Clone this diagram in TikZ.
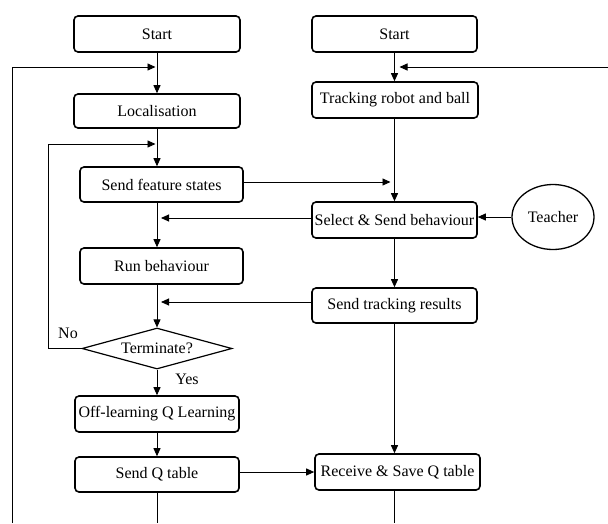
\documentclass[tikz,border=0pt]{standalone}
\usepackage{fontspec}
\setmainfont{Liberation Serif}
\usetikzlibrary{arrows.meta,shapes.geometric}
\begin{document}
\begin{tikzpicture}[x=1pt,y=-1pt,
  txt/.style={font=\fontsize{16}{19}\selectfont},
  box/.style={txt, draw, line width=1.6pt, rounded corners=4pt, inner sep=0pt},
  dia/.style={txt, draw, diamond, aspect=3.66, line width=1.2pt, inner sep=0pt, minimum width=150pt, minimum height=41pt},
  ell/.style={txt, draw, ellipse, line width=1.3pt, inner sep=0pt, minimum width=82pt, minimum height=65pt},
  ln/.style={line width=0.9pt},
  arr/.style={line width=0.9pt, -{Triangle[length=8pt,width=7pt]}},
  lbl/.style={txt, inner sep=0pt}]
\useasboundingbox (0,0) rectangle (608,523);
% left column
\node[box,minimum width=166pt,minimum height=36pt] (s1) at (157,34) {Start};
\node[box,minimum width=166pt,minimum height=34pt] (loc) at (157,111) {Localisation};
\node[box,minimum width=163pt,minimum height=35pt] (sfs) at (161.5,184.5) {Send feature states};
\node[box,minimum width=163pt,minimum height=36pt] (run) at (161.5,266) {Run behaviour};
\node[dia] (term) at (157,348.5) {Terminate?};
\node[box,minimum width=164pt,minimum height=36pt] (off) at (157,414) {Off-learning Q Learning};
\node[box,minimum width=164pt,minimum height=35pt] (sqt) at (157,474.5) {Send Q table};
% right column
\node[box,minimum width=165pt,minimum height=36pt] (s2) at (394.5,34) {Start};
\node[box,minimum width=166pt,minimum height=36pt] (trk) at (395,100) {Tracking robot and ball};
\node[box,minimum width=165pt,minimum height=36pt] (sel) at (394.5,220) {Select \& Send behaviour};
\node[ell] (tea) at (553,217) {Teacher};
\node[box,minimum width=165pt,minimum height=35pt] (str) at (394.5,305.5) {Send tracking results};
\node[box,minimum width=165pt,minimum height=36pt] (rcv) at (397.5,472) {Receive \& Save Q table};
% labels
\node[lbl] (no) at (68,333) {No};
\node[lbl] (yes) at (187,379) {Yes};
% coordinates
\coordinate (bl) at (157,523);
\coordinate (j1) at (157,67);
\coordinate (o1) at (12,523);
\coordinate (j2) at (157,144);
\coordinate (o2) at (48,144);
\coordinate (r1) at (608,67);
\coordinate (j3) at (394.5,67);
% left vertical flow
\draw[arr] (s1.south) -- (loc.north);
\draw[arr] (loc.south) -- (loc.south |- sfs.north);
\draw[arr] (loc.south |- sfs.south) -- (loc.south |- run.north);
\draw[arr] (loc.south |- run.south) -- (term.north);
\draw[arr] (term.south) -- (off.north);
\draw[arr] (off.south) -- (sqt.north);
\draw[ln] (sqt.south) -- (bl);
% right vertical flow
\draw[arr] (s2.south) -- (s2.south |- trk.north);
\draw[arr] (s2.south |- trk.south) -- (s2.south |- sel.north);
\draw[arr] (s2.south |- sel.south) -- (s2.south |- str.north);
\draw[arr] (s2.south |- str.south) -- (s2.south |- rcv.north);
\draw[ln] (s2.south |- rcv.south) -- (s2.south |- bl);
% loops
\draw[arr, shorten >=1.5pt] (o1) |- (j1);
\draw[arr, shorten >=1.5pt] (term.west) -| (o2) -- (j2);
\draw[arr, shorten >=5pt] (r1) -- (j3);
% horizontal messages
\draw[arr, shorten >=4pt] ([yshift=2.5pt]sfs.east) -- ([yshift=2.5pt]sfs.east -| s2.south);
\draw[arr, shorten >=4pt] ([yshift=2pt]sel.west) -- ([yshift=2pt]sel.west -| loc.south);
\draw[arr] (tea.west) -- (tea.west -| sel.east);
\draw[arr, shorten >=4pt] ([yshift=3.5pt]str.west) -- ([yshift=3.5pt]str.west -| loc.south);
\draw[arr] (sqt.east |- rcv.west) -- (rcv.west);
\end{tikzpicture}
\end{document}
